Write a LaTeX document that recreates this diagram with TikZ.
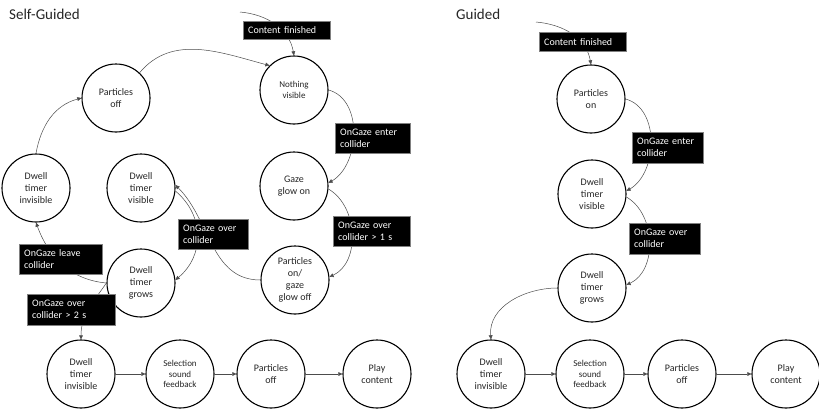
\documentclass[tikz,border=0pt]{standalone}
\usepackage{fontspec}
\setmainfont{Carlito}
\usetikzlibrary{arrows.meta}
\begin{document}
\begin{tikzpicture}[x=1pt,y=1pt,
  state/.style={circle, draw=black, fill=white, line width=1.1pt, minimum size=68pt,
    inner sep=0pt, align=center, text=black!85, font=\fontsize{10}{12}\selectfont},
  smalltext/.style={font=\fontsize{9}{10.6}\selectfont},
  cond/.style={fill=black, draw=black!50, line width=0.4pt, text=white, align=left,
    anchor=north west, inner xsep=5pt, inner ysep=0pt, font=\fontsize{10}{12}\selectfont},
  link/.style={draw=black!70, line width=0.5pt, -{Triangle[length=4.2pt,width=3.8pt]}},
  heading/.style={anchor=west, inner sep=0pt, text=black!85, font=\fontsize{15}{18}\selectfont},
]
\fill[white] (0,0) rectangle (819,-410);
\useasboundingbox (0,0) rectangle (819,-410);

% ---------- Self-Guided ----------
\node[heading] (titlea) at (9,-14) {Self-Guided};

\node[state] (pofa) at (116,-98) {Particles\\off};
\node[state, smalltext] (nvis) at (294,-90) {Nothing\\visible};
\node[state] (gaze) at (294,-186) {Gaze\\glow on};
\node[state] (pon) at (295,-280) {Particles\\on/\\gaze\\glow off};
\node[state] (dvis) at (141,-188) {Dwell\\timer\\visible};
\node[state] (dinva) at (36,-188) {Dwell\\timer\\invisible};
\node[state] (dgro) at (141,-283) {Dwell\\timer\\grows};

\node[state] (b1a) at (81,-374) {Dwell\\timer\\invisible};
\node[state, smalltext] (b2a) at (180,-374) {Selection\\sound\\feedback};
\node[state] (b3a) at (271,-374) {Particles\\off};
\node[state] (b4a) at (377,-374) {Play\\content};

\coordinate (ina) at (240,-12);

\draw[link] (ina) to[out=-5,in=100] (nvis.north);
\draw[link] (pofa.47) to[out=50,in=165] (nvis.135);
\draw[link] (nvis.0) to[out=-15,in=30] (gaze.5);
\draw[link] (gaze.-5) to[out=-30,in=25] (pon.5);
\draw[link] (pon.180) to[out=180,in=-45] (dvis.5);
\draw[link] (dvis.-5) to[out=-40,in=40,looseness=1.1] (dgro.5);
\draw[link] (dgro.180) to[out=175,in=-70] (dinva.south);
\draw[link] (dinva.north) to[out=80,in=195] (pofa.180);
\draw[link] (dgro.180) to[out=235,in=90] (b1a.north);
\draw[link] (b1a) -- (b2a);
\draw[link] (b2a) -- (b3a);
\draw[link] (b3a) -- (b4a);

\node[cond, minimum width=87pt, text width=77pt, minimum height=18pt] (ca1) at (243,-21) {Content finished};
\node[cond, minimum width=75pt, text width=65pt, minimum height=30pt] (ca2) at (335,-123) {OnGaze enter\\collider};
\node[cond, minimum width=77pt, text width=67pt, minimum height=30pt] (ca3) at (333,-216) {OnGaze over\\collider > 1 s};
\node[cond, minimum width=70pt, text width=60pt, minimum height=30pt] (ca4) at (178,-219) {OnGaze over\\collider};
\node[cond, minimum width=83pt, text width=73pt, minimum height=30pt] (ca5) at (19,-244) {OnGaze leave\\collider};
\node[cond, minimum width=88pt, text width=78pt, minimum height=31pt] (ca6) at (27,-294) {OnGaze over\\collider > 2 s};

% ---------- Guided ----------
\node[heading] (titleb) at (456,-14) {Guided};

\node[state] (ponb) at (591,-99) {Particles\\on};
\node[state] (dvisb) at (592,-194) {Dwell\\timer\\visible};
\node[state] (dgrob) at (592,-288) {Dwell\\timer\\grows};

\node[state] (b1b) at (491,-374) {Dwell\\timer\\invisible};
\node[state, smalltext] (b2b) at (590,-374) {Selection\\sound\\feedback};
\node[state] (b3b) at (682,-374) {Particles\\off};
\node[state] (b4b) at (786,-374) {Play\\content};

\coordinate (inb) at (536,-22);

\draw[link] (inb) to[out=-5,in=100] (ponb.north);
\draw[link] (ponb.0) to[out=-15,in=30] (dvisb.5);
\draw[link] (dvisb.-5) to[out=-30,in=25] (dgrob.5);
\draw[link] (dgrob.180) to[out=180,in=95] (b1b.north);
\draw[link] (b1b) -- (b2b);
\draw[link] (b2b) -- (b3b);
\draw[link] (b3b) -- (b4b);

\node[cond, minimum width=87pt, text width=77pt, minimum height=19pt] (cb1) at (539,-32) {Content finished};
\node[cond, minimum width=71pt, text width=61pt, minimum height=31pt] (cb2) at (632,-132) {OnGaze enter\\collider};
\node[cond, minimum width=71pt, text width=61pt, minimum height=31pt] (cb3) at (629,-223) {OnGaze over\\collider};
\end{tikzpicture}
\end{document}
